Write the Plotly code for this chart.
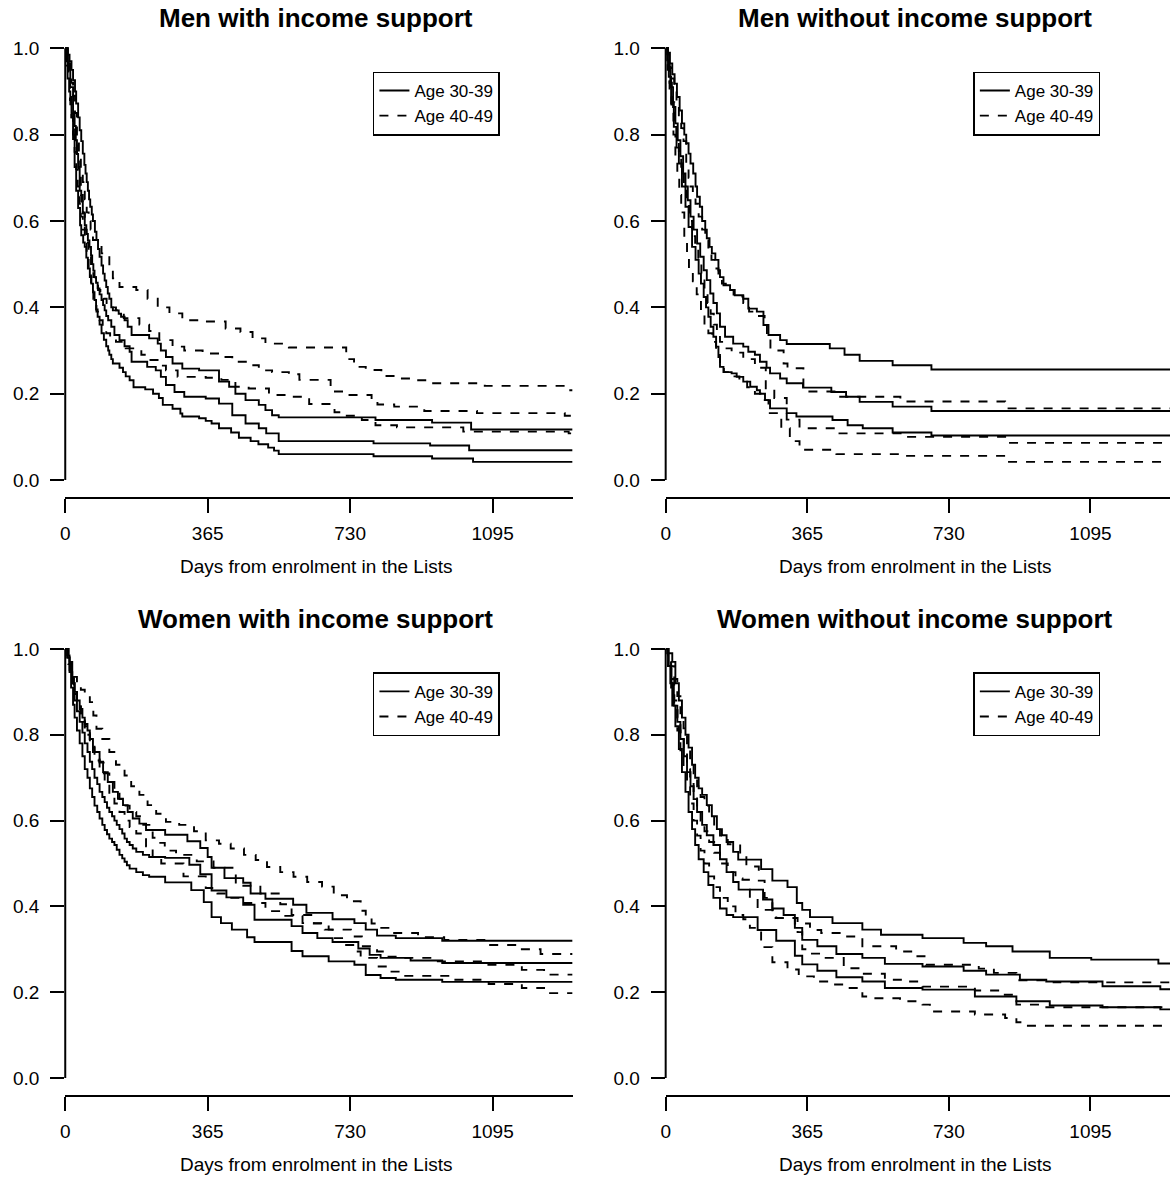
import plotly.graph_objects as go

# ---------------- data (day, survival) step points ----------------
# Men with income support
men_inc_30_hi = [(0,1.0),(6,0.985),(11,0.97),(16,0.95),(20,0.926),(25,0.90),(28,0.872),(33,0.84),(37,0.81),(41,0.785),(45,0.756),(49,0.73),(52,0.71),(55,0.69),(58,0.67),(61,0.65),(64,0.633),(68,0.615),(71,0.60),(76,0.575),(80,0.556),(84,0.535),(88,0.517),(93,0.497),(97,0.478),(101,0.462),(105,0.447),(109,0.432),(113,0.42),(118,0.40),(130,0.393),(137,0.385),(143,0.378),(152,0.37),(160,0.355),(170,0.336),(215,0.328),(237,0.316),(245,0.30),(258,0.285),(275,0.27),(300,0.258),(343,0.254),(394,0.228),(420,0.216),(436,0.20),(462,0.185),(496,0.174),(513,0.162),(530,0.15),(547,0.145),(795,0.139),(940,0.133),(1040,0.117),(1300,0.117)]
men_inc_30_est = [(0,1.0),(7,0.965),(13,0.91),(20,0.85),(24,0.82),(27,0.787),(30,0.755),(33,0.725),(37,0.67),(41,0.645),(45,0.617),(50,0.59),(54,0.57),(58,0.555),(62,0.54),(66,0.52),(69,0.50),(72,0.485),(75,0.47),(79,0.457),(83,0.444),(88,0.43),(93,0.417),(97,0.405),(101,0.393),(105,0.38),(110,0.37),(118,0.355),(126,0.336),(139,0.324),(152,0.31),(165,0.297),(170,0.274),(210,0.262),(232,0.254),(245,0.239),(258,0.22),(280,0.204),(305,0.193),(360,0.189),(394,0.177),(428,0.15),(462,0.131),(496,0.12),(515,0.108),(547,0.09),(790,0.085),(935,0.08),(1035,0.069),(1300,0.069)]
men_inc_30_lo = [(0,1.0),(3,0.97),(6,0.93),(10,0.90),(13,0.87),(16,0.84),(20,0.79),(24,0.725),(28,0.67),(33,0.63),(38,0.59),(41,0.567),(46,0.55),(50,0.54),(54,0.515),(58,0.49),(63,0.47),(67,0.455),(71,0.435),(75,0.417),(79,0.395),(83,0.378),(88,0.36),(93,0.34),(99,0.325),(105,0.31),(110,0.30),(113,0.29),(118,0.28),(122,0.27),(139,0.26),(148,0.25),(155,0.24),(165,0.231),(175,0.215),(205,0.21),(225,0.20),(240,0.19),(250,0.174),(275,0.165),(295,0.154),(300,0.147),(343,0.143),(360,0.137),(375,0.131),(394,0.12),(425,0.11),(445,0.098),(475,0.09),(495,0.083),(520,0.075),(535,0.068),(547,0.06),(790,0.055),(940,0.05),(1045,0.042),(1300,0.042)]
men_inc_40_hi = [(0,1.0),(5,0.98),(10,0.95),(15,0.92),(20,0.89),(25,0.85),(30,0.80),(35,0.76),(40,0.72),(45,0.69),(50,0.65),(55,0.62),(60,0.60),(65,0.58),(71,0.556),(93,0.525),(113,0.494),(122,0.467),(139,0.447),(182,0.44),(211,0.42),(237,0.40),(267,0.386),(300,0.37),(360,0.367),(411,0.351),(449,0.343),(480,0.328),(513,0.316),(573,0.307),(720,0.28),(740,0.262),(770,0.255),(810,0.241),(853,0.235),(891,0.231),(934,0.224),(1075,0.218),(1290,0.208),(1300,0.208)]
men_inc_40_est = [(0,1.0),(4,0.97),(8,0.94),(12,0.90),(16,0.86),(20,0.82),(25,0.78),(30,0.74),(35,0.70),(40,0.66),(45,0.62),(50,0.58),(55,0.55),(60,0.52),(66,0.50),(72,0.47),(78,0.45),(84,0.44),(90,0.43),(98,0.42),(106,0.41),(115,0.40),(122,0.393),(150,0.375),(190,0.36),(215,0.345),(241,0.324),(275,0.309),(305,0.30),(352,0.293),(394,0.285),(428,0.274),(470,0.266),(496,0.254),(530,0.25),(573,0.245),(600,0.232),(680,0.205),(720,0.197),(785,0.185),(800,0.175),(843,0.17),(920,0.16),(1055,0.155),(1280,0.149),(1300,0.149)]
men_inc_40_lo = [(0,1.0),(4,0.96),(8,0.93),(12,0.88),(16,0.84),(20,0.80),(24,0.76),(28,0.72),(32,0.68),(36,0.64),(40,0.61),(45,0.58),(50,0.55),(55,0.51),(60,0.48),(66,0.45),(72,0.42),(80,0.39),(88,0.37),(96,0.35),(105,0.34),(115,0.33),(130,0.32),(155,0.305),(195,0.29),(211,0.278),(240,0.265),(258,0.254),(288,0.239),(360,0.237),(400,0.232),(436,0.216),(470,0.212),(522,0.197),(565,0.193),(607,0.187),(625,0.176),(690,0.157),(710,0.149),(760,0.139),(795,0.127),(850,0.122),(1020,0.112),(1290,0.108),(1300,0.108)]

# Men without income support
men_noinc_30_hi = [(0,1.0),(6,0.99),(11,0.965),(17,0.94),(23,0.918),(29,0.887),(36,0.856),(42,0.826),(48,0.80),(53,0.78),(59,0.756),(64,0.733),(71,0.71),(77,0.68),(81,0.656),(88,0.633),(94,0.60),(102,0.58),(106,0.56),(113,0.54),(119,0.525),(128,0.51),(136,0.486),(140,0.47),(149,0.451),(166,0.44),(178,0.428),(200,0.42),(213,0.397),(235,0.39),(252,0.359),(265,0.336),(295,0.324),(312,0.315),(423,0.305),(461,0.29),(500,0.276),(585,0.266),(685,0.256),(1300,0.256)]
men_noinc_30_est = [(0,1.0),(6,0.957),(12,0.91),(19,0.864),(25,0.826),(31,0.787),(38,0.75),(45,0.71),(51,0.68),(57,0.648),(64,0.61),(72,0.58),(81,0.548),(89,0.517),(98,0.486),(106,0.463),(115,0.432),(123,0.41),(132,0.386),(140,0.355),(153,0.332),(174,0.316),(200,0.309),(213,0.297),(230,0.29),(243,0.274),(260,0.26),(269,0.247),(295,0.235),(312,0.224),(354,0.214),(427,0.204),(465,0.193),(500,0.181),(585,0.17),(685,0.16),(1300,0.16)]
men_noinc_30_lo = [(0,1.0),(4,0.972),(8,0.934),(14,0.872),(21,0.818),(28,0.77),(34,0.733),(42,0.68),(51,0.633),(59,0.586),(68,0.54),(77,0.51),(85,0.478),(91,0.455),(98,0.424),(104,0.40),(110,0.378),(116,0.355),(123,0.332),(130,0.309),(136,0.285),(140,0.262),(149,0.25),(170,0.247),(183,0.239),(200,0.228),(218,0.216),(235,0.208),(243,0.20),(256,0.185),(269,0.166),(312,0.155),(337,0.147),(430,0.139),(469,0.127),(508,0.12),(585,0.11),(685,0.103),(1300,0.103)]
men_noinc_40_hi = [(0,1.0),(5,0.98),(10,0.955),(16,0.93),(22,0.905),(28,0.875),(34,0.845),(40,0.815),(46,0.785),(53,0.73),(59,0.70),(64,0.68),(70,0.66),(77,0.64),(85,0.61),(94,0.58),(102,0.555),(110,0.53),(118,0.51),(128,0.49),(136,0.47),(145,0.455),(155,0.44),(175,0.425),(200,0.41),(215,0.39),(235,0.38),(255,0.37),(261,0.33),(270,0.30),(304,0.27),(314,0.259),(355,0.205),(440,0.193),(605,0.182),(875,0.166),(1300,0.166)]
men_noinc_40_est = [(0,1.0),(5,0.965),(10,0.92),(16,0.875),(22,0.83),(28,0.79),(34,0.75),(40,0.71),(47,0.67),(54,0.635),(61,0.60),(68,0.565),(76,0.535),(84,0.50),(92,0.47),(100,0.44),(108,0.41),(116,0.385),(124,0.36),(132,0.34),(140,0.32),(150,0.305),(170,0.295),(200,0.28),(230,0.26),(258,0.21),(280,0.19),(312,0.14),(345,0.12),(445,0.108),(610,0.10),(875,0.086),(1300,0.086)]
men_noinc_40_lo = [(0,1.0),(5,0.95),(10,0.90),(15,0.85),(20,0.80),(25,0.75),(30,0.70),(35,0.66),(40,0.62),(48,0.56),(55,0.52),(60,0.49),(70,0.46),(80,0.43),(91,0.39),(100,0.36),(110,0.34),(120,0.32),(130,0.30),(140,0.27),(150,0.25),(170,0.24),(190,0.23),(210,0.215),(230,0.20),(245,0.185),(265,0.155),(298,0.12),(320,0.09),(345,0.07),(440,0.06),(610,0.056),(875,0.042),(1300,0.042)]

# Women with income support
wom_inc_30_hi = [(0,1.0),(6,0.98),(11,0.946),(18,0.92),(24,0.90),(30,0.88),(37,0.86),(44,0.84),(50,0.825),(57,0.81),(63,0.79),(71,0.76),(88,0.737),(97,0.713),(109,0.69),(122,0.667),(135,0.651),(148,0.636),(160,0.62),(173,0.605),(190,0.593),(207,0.578),(256,0.567),(313,0.552),(346,0.536),(365,0.515),(375,0.49),(408,0.466),(456,0.455),(475,0.43),(513,0.418),(584,0.404),(618,0.385),(685,0.37),(741,0.361),(770,0.346),(799,0.332),(847,0.326),(966,0.32),(1300,0.32)]
wom_inc_30_est = [(0,1.0),(5,0.985),(11,0.97),(18,0.92),(24,0.88),(30,0.855),(37,0.83),(44,0.805),(50,0.78),(57,0.76),(63,0.737),(69,0.72),(75,0.70),(82,0.685),(88,0.667),(95,0.655),(101,0.643),(107,0.63),(113,0.62),(120,0.61),(126,0.60),(132,0.59),(139,0.58),(146,0.57),(152,0.558),(158,0.55),(165,0.543),(173,0.535),(182,0.527),(199,0.52),(215,0.515),(256,0.513),(318,0.497),(346,0.475),(375,0.437),(413,0.421),(456,0.404),(485,0.369),(580,0.354),(608,0.338),(646,0.326),(685,0.317),(751,0.302),(780,0.287),(808,0.28),(885,0.274),(966,0.268),(1300,0.268)]
wom_inc_30_lo = [(0,1.0),(5,0.98),(11,0.95),(15,0.91),(20,0.87),(24,0.84),(30,0.81),(37,0.78),(44,0.75),(50,0.72),(57,0.70),(63,0.675),(69,0.655),(75,0.635),(82,0.62),(88,0.605),(95,0.59),(101,0.578),(107,0.568),(113,0.558),(120,0.55),(126,0.543),(132,0.532),(139,0.52),(146,0.512),(152,0.504),(158,0.496),(165,0.488),(182,0.48),(199,0.473),(215,0.469),(256,0.456),(323,0.438),(355,0.41),(375,0.375),(399,0.361),(427,0.346),(466,0.328),(485,0.317),(580,0.296),(608,0.284),(675,0.272),(741,0.264),(770,0.24),(808,0.233),(847,0.229),(966,0.224),(1300,0.224)]
wom_inc_40_hi = [(0,1.0),(8,0.975),(15,0.955),(22,0.935),(30,0.92),(40,0.905),(50,0.89),(63,0.876),(72,0.845),(80,0.814),(95,0.79),(113,0.76),(130,0.73),(152,0.705),(169,0.68),(190,0.66),(211,0.636),(233,0.616),(258,0.597),(292,0.59),(330,0.575),(360,0.554),(394,0.546),(424,0.535),(458,0.52),(488,0.508),(517,0.492),(551,0.48),(585,0.469),(620,0.457),(658,0.446),(688,0.426),(722,0.412),(757,0.39),(770,0.373),(785,0.36),(804,0.35),(837,0.338),(904,0.328),(971,0.322),(1085,0.31),(1161,0.30),(1218,0.289),(1300,0.289)]
wom_inc_40_est = [(0,1.0),(8,0.97),(15,0.94),(22,0.91),(30,0.88),(40,0.85),(50,0.82),(63,0.79),(75,0.76),(88,0.735),(101,0.71),(113,0.69),(126,0.67),(139,0.65),(152,0.635),(165,0.62),(182,0.61),(200,0.59),(224,0.56),(241,0.548),(255,0.53),(284,0.52),(337,0.505),(380,0.49),(437,0.448),(500,0.43),(551,0.405),(580,0.38),(637,0.36),(675,0.346),(732,0.33),(760,0.307),(799,0.295),(818,0.283),(856,0.28),(952,0.272),(1075,0.264),(1170,0.252),(1227,0.241),(1300,0.241)]
wom_inc_40_lo = [(0,1.0),(8,0.965),(15,0.93),(22,0.895),(30,0.865),(40,0.83),(50,0.80),(63,0.77),(75,0.74),(88,0.71),(101,0.685),(113,0.66),(126,0.64),(139,0.62),(152,0.60),(165,0.585),(182,0.57),(207,0.54),(224,0.515),(246,0.50),(303,0.47),(360,0.443),(390,0.43),(418,0.42),(456,0.408),(513,0.389),(551,0.378),(608,0.361),(665,0.346),(685,0.326),(715,0.31),(745,0.295),(757,0.28),(799,0.26),(827,0.248),(866,0.238),(990,0.229),(1085,0.219),(1170,0.21),(1227,0.198),(1300,0.198)]

# Women without income support
wom_noinc_30_hi = [(0,1.0),(4,0.99),(17,0.97),(25,0.92),(34,0.88),(42,0.84),(51,0.80),(59,0.77),(68,0.73),(76,0.70),(85,0.675),(94,0.66),(106,0.636),(119,0.61),(132,0.58),(145,0.566),(157,0.55),(174,0.527),(187,0.509),(246,0.487),(275,0.46),(314,0.445),(338,0.408),(352,0.392),(372,0.375),(430,0.361),(507,0.346),(555,0.334),(662,0.326),(768,0.315),(826,0.307),(894,0.295),(990,0.28),(1097,0.276),(1270,0.267),(1300,0.267)]
wom_noinc_30_est = [(0,1.0),(8,0.96),(15,0.92),(21,0.868),(30,0.83),(38,0.79),(47,0.75),(55,0.713),(64,0.68),(72,0.65),(81,0.62),(94,0.59),(106,0.566),(123,0.543),(140,0.51),(157,0.48),(174,0.457),(188,0.439),(251,0.416),(275,0.395),(304,0.38),(333,0.35),(352,0.322),(391,0.307),(440,0.289),(507,0.28),(565,0.266),(662,0.26),(768,0.25),(826,0.241),(913,0.229),(981,0.225),(1126,0.214),(1275,0.207),(1300,0.207)]
wom_noinc_30_lo = [(0,1.0),(6,0.96),(12,0.92),(17,0.868),(25,0.82),(34,0.767),(42,0.713),(51,0.667),(59,0.62),(68,0.58),(76,0.543),(85,0.51),(98,0.48),(110,0.45),(123,0.42),(140,0.395),(157,0.38),(174,0.375),(237,0.345),(285,0.32),(333,0.285),(352,0.265),(391,0.25),(440,0.235),(507,0.225),(565,0.21),(662,0.206),(797,0.19),(904,0.179),(990,0.169),(1126,0.165),(1275,0.16),(1300,0.16)]
wom_noinc_40_hi = [(0,1.0),(6,0.985),(14,0.96),(22,0.93),(30,0.89),(38,0.85),(46,0.815),(55,0.78),(63,0.745),(72,0.71),(81,0.68),(90,0.655),(100,0.635),(112,0.61),(125,0.585),(140,0.565),(160,0.545),(192,0.52),(208,0.493),(240,0.46),(255,0.42),(275,0.373),(333,0.36),(372,0.345),(401,0.338),(459,0.33),(507,0.307),(594,0.295),(642,0.284),(671,0.264),(807,0.255),(846,0.245),(904,0.228),(1000,0.223),(1300,0.223)]
wom_noinc_40_est = [(0,1.0),(6,0.97),(14,0.93),(22,0.88),(30,0.84),(38,0.80),(46,0.76),(55,0.72),(63,0.69),(72,0.655),(81,0.625),(90,0.60),(100,0.575),(112,0.55),(125,0.525),(140,0.50),(160,0.48),(180,0.465),(198,0.462),(217,0.42),(237,0.392),(285,0.373),(340,0.34),(352,0.30),(372,0.29),(410,0.28),(459,0.256),(507,0.243),(565,0.229),(623,0.225),(662,0.213),(797,0.204),(865,0.194),(904,0.171),(972,0.165),(1300,0.165)]
wom_noinc_40_lo = [(0,1.0),(6,0.96),(14,0.91),(22,0.86),(30,0.81),(38,0.76),(46,0.72),(55,0.68),(63,0.64),(72,0.60),(81,0.565),(90,0.53),(100,0.50),(112,0.47),(125,0.445),(140,0.42),(160,0.40),(180,0.38),(200,0.37),(217,0.35),(246,0.305),(275,0.27),(314,0.253),(343,0.237),(382,0.225),(430,0.218),(469,0.21),(507,0.19),(536,0.186),(604,0.179),(662,0.171),(681,0.155),(797,0.148),(875,0.14),(904,0.13),(923,0.122),(1300,0.122)]

panel_titles = ["Men with income support", "Men without income support",
                "Women with income support", "Women without income support"]
group_labels = ["Age 30-39", "Age 40-49"]
x_ticks = [0, 365, 730, 1095]
y_ticks = [0.0, 0.2, 0.4, 0.6, 0.8, 1.0]
x_title = "Days from enrolment in the Lists"

panel_curves = [
    [[men_inc_30_hi, men_inc_30_est, men_inc_30_lo], [men_inc_40_hi, men_inc_40_est, men_inc_40_lo]],
    [[men_noinc_30_hi, men_noinc_30_est, men_noinc_30_lo], [men_noinc_40_hi, men_noinc_40_est, men_noinc_40_lo]],
    [[wom_inc_30_hi, wom_inc_30_est, wom_inc_30_lo], [wom_inc_40_hi, wom_inc_40_est, wom_inc_40_lo]],
    [[wom_noinc_30_hi, wom_noinc_30_est, wom_noinc_30_lo], [wom_noinc_40_hi, wom_noinc_40_est, wom_noinc_40_lo]],
]

# ---------------- layout geometry (pixels) ----------------
W, H = 1175, 1183
X_MAX = 1300
Y_LO, Y_HI = -0.04, 1.04
col_px = [(60.5, 570.0), (663.5, 1170.0)]
row_px = [(31.0, 497.3), (631.8, 1095.2)]   # (top, bottom)
FONT = "Liberation Sans, Arial, Helvetica, sans-serif"
LINE_W = 1.9

def xdom(c):
    return [col_px[c][0] / W, col_px[c][1] / W]

def ydom(r):
    return [1 - row_px[r][1] / H, 1 - row_px[r][0] / H]

fig = go.Figure()
shapes, annotations = [], []
styles = ["solid", "dash"]

for p in range(4):
    r, c = divmod(p, 2)
    idx = "" if p == 0 else str(p + 1)
    xa, ya = "x" + idx, "y" + idx
    leg = "legend" + idx
    for g in range(2):
        for k, curve in enumerate(panel_curves[p][g]):
            fig.add_trace(go.Scatter(
                x=[pt[0] for pt in curve], y=[pt[1] for pt in curve],
                mode="lines", line=dict(color="black", width=LINE_W, dash=styles[g], shape="hv"),
                name=group_labels[g], showlegend=(k == 1), legend=leg,
                xaxis=xa, yaxis=ya, hoverinfo="skip"))

    ax_common = dict(showgrid=False, zeroline=False, ticks="outside", ticklen=14, tickwidth=2,
                     tickcolor="black", tickfont=dict(family=FONT, size=19, color="black"))
    fig.layout["xaxis" + idx] = dict(domain=xdom(c), range=[0, X_MAX], tickvals=x_ticks,
                                     showline=True, linewidth=2, linecolor="black",
                                     anchor=ya, ticklabelstandoff=4, **ax_common)
    fig.layout["yaxis" + idx] = dict(domain=ydom(r), range=[Y_LO, Y_HI], tickvals=y_ticks,
                                     tickformat=".1f", showline=False, anchor=xa,
                                     ticklabelstandoff=7, **ax_common)

    # R style y-axis line spanning 0..1 only
    yd = ydom(r)
    def py(v):
        return yd[0] + (v - Y_LO) / (Y_HI - Y_LO) * (yd[1] - yd[0])
    shapes.append(dict(type="line", xref="paper", yref="paper",
                       x0=xdom(c)[0], x1=xdom(c)[0], y0=py(0), y1=py(1),
                       line=dict(color="black", width=2)))

    xc = (xdom(c)[0] + xdom(c)[1]) / 2
    annotations.append(dict(text="<b>" + panel_titles[p] + "</b>", xref="paper", yref="paper",
                            x=xc - 3 / W, y=1 - (row_px[r][0] - 13) / H, xanchor="center", yanchor="middle",
                            showarrow=False, font=dict(family=FONT, size=26, color="black")))
    annotations.append(dict(text=x_title, xref="paper", yref="paper",
                            x=xc - 3 / W, y=1 - (row_px[r][1] + 69) / H, xanchor="center", yanchor="middle",
                            showarrow=False, font=dict(family=FONT, size=19, color="black")))

    fig.layout[leg] = dict(x=(col_px[c][0] + 309) / W, y=1 - (row_px[r][0] + 40.5) / H,
                           xanchor="left", yanchor="top", bgcolor="white",
                           bordercolor="black", borderwidth=1.5,
                           font=dict(family=FONT, size=17, color="black"),
                           itemwidth=30, tracegroupgap=0)

fig.update_layout(width=W, height=H, margin=dict(l=0, r=0, t=0, b=0),
                  paper_bgcolor="white", plot_bgcolor="white",
                  shapes=shapes, annotations=annotations,
                  font=dict(family=FONT, color="black"))

fig.write_html("out.html")
